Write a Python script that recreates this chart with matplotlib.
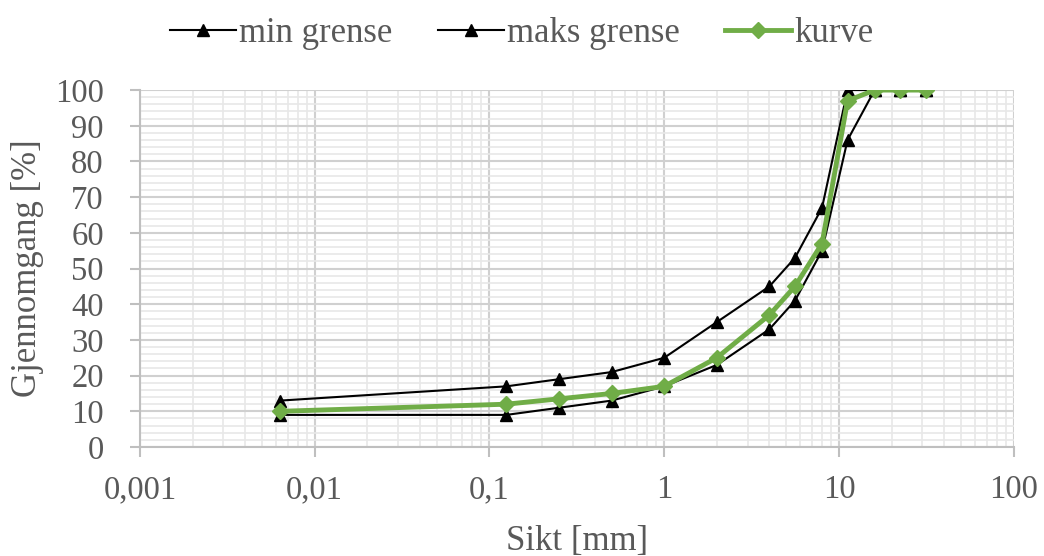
import numpy as np
import matplotlib
matplotlib.use("Agg")
import matplotlib.pyplot as plt
import matplotlib.ticker as ticker

# sieve sizes [mm]
sikt = [0.0063, 0.125, 0.25, 0.5, 1, 2, 4, 5.6, 8, 11.2, 16, 22.4, 31.5]

# passing [%]
min_grense = [9, 9, 11, 13, 17, 23, 33, 41, 55, 86, 100, 100, 100]
maks_grense = [13, 17, 19, 21, 25, 35, 45, 53, 67, 100, 100, 100, 100]
kurve = [10, 12, 13.5, 15, 17, 25, 37, 45, 57, 97, 100, 100, 100]

x_ticks = [0.001, 0.01, 0.1, 1, 10, 100]
x_ticklabels = ["0,001", "0,01", "0,1", "1", "10", "100"]

txt = "#595959"
plt.rcParams['font.family'] = ['Liberation Serif', 'DejaVu Serif']
plt.rcParams['font.size'] = 25

fig, ax = plt.subplots(figsize=(10.44, 5.56), dpi=100)
fig.subplots_adjust(left=0.134, right=0.971, top=0.838, bottom=0.196)

ax.plot(sikt, min_grense, color="black", lw=1.5, marker="^", ms=9,
        label="min grense", zorder=3)
ax.plot(sikt, maks_grense, color="black", lw=1.5, marker="^", ms=9,
        label="maks grense", zorder=3)
ax.plot(sikt, kurve, color="#70AD47", lw=3.5, marker="D", ms=8,
        label="kurve", zorder=4)

ax.set_xscale("log")
ax.set_xlim(0.001, 100)
ax.set_ylim(0, 100)
ax.set_xticks(x_ticks)
ax.set_xticklabels(x_ticklabels)
ax.xaxis.set_minor_locator(ticker.LogLocator(base=10, subs=np.arange(2, 10)))
ax.xaxis.set_minor_formatter(ticker.NullFormatter())
ax.yaxis.set_major_locator(ticker.MultipleLocator(10))
ax.yaxis.set_minor_locator(ticker.MultipleLocator(2))

ax.grid(which="major", color="#D0D0D0", lw=1.5)
ax.grid(which="minor", color="#E8E8E8", lw=1.2)
ax.set_axisbelow(True)

for sp in ["top", "right"]:
    ax.spines[sp].set_visible(False)
for sp in ["left", "bottom"]:
    ax.spines[sp].set_color("#BFBFBF")
    ax.spines[sp].set_linewidth(1.5)

ax.tick_params(which="major", direction="out", length=7, width=1.5,
               color="#BFBFBF", labelcolor=txt, labelsize=23.5)
ax.tick_params(axis="x", which="major", pad=13)
ax.tick_params(axis="y", which="major", pad=19)
ax.tick_params(which="minor", length=0)

ax.set_xlabel("Sikt [mm]", color=txt, labelpad=14)
ax.set_ylabel("Gjennomgang [%]", color=txt, labelpad=8)

leg = fig.legend(loc="upper center", bbox_to_anchor=(0.5, 1.025), ncol=3,
                 frameon=False, handlelength=1.9, handletextpad=0.1,
                 columnspacing=1.3, labelcolor=txt)

fig.savefig("out.png", dpi=100)
